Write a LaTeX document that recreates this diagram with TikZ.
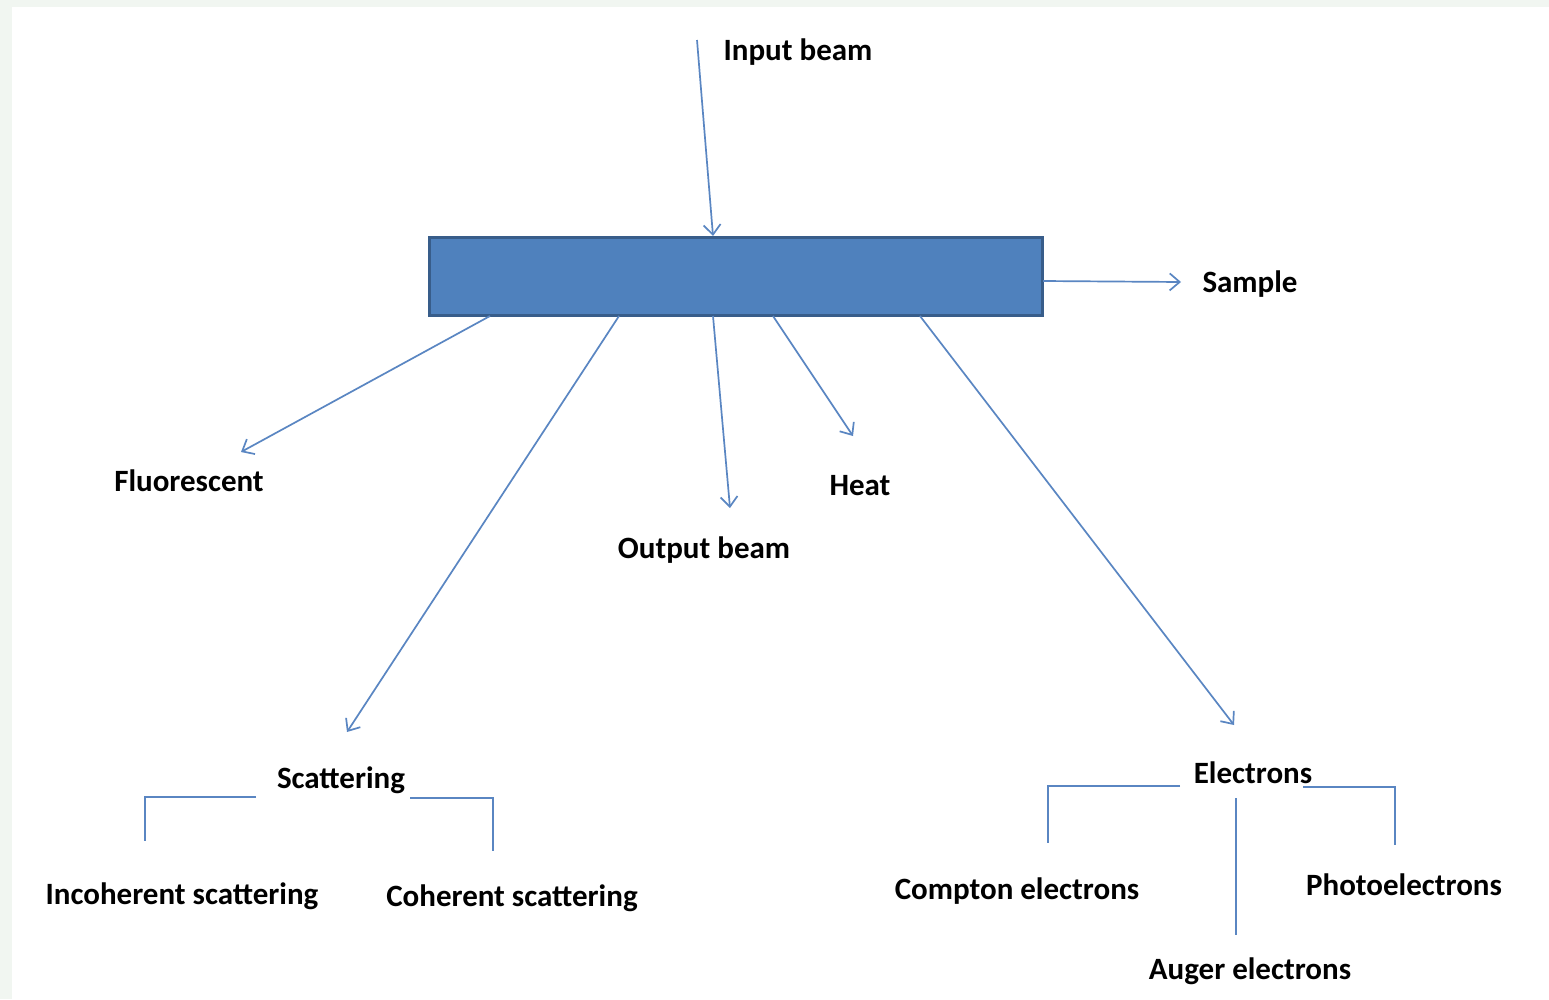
\documentclass[tikz,border=0pt]{standalone}
\usepackage{fontspec}
\setmainfont{Carlito}
\usetikzlibrary{arrows.meta}
\definecolor{linec}{HTML}{5A86C2}
\definecolor{boxfill}{HTML}{4F81BD}
\definecolor{boxdraw}{HTML}{385D8A}
\definecolor{pale}{HTML}{F1F6F1}
\begin{document}
\begin{tikzpicture}[x=1pt,y=-1pt,
  lbl/.style={font=\fontsize{31}{36}\selectfont\bfseries, text=black, inner sep=0pt, yshift=-2pt},
  conn/.style={draw=linec, line width=1.7pt},
  arr/.style={conn, -{Straight Barb[length=10pt,width=17pt,line width=1.7pt]}},
  samplebox/.style={draw=boxdraw, fill=boxfill, line width=3pt, minimum width=613pt, minimum height=78pt, inner sep=0pt}]
\useasboundingbox (0,0) rectangle (1549,999);
\fill[pale] (0,0) rectangle (1549,999);
\fill[white] (12,7) rectangle (1549,999);
% sample
\node[samplebox] (box) at (735.5,276) {};
% labels
\node[lbl] (input) at (798,50) {Input beam};
\node[lbl] (sample) at (1250,282) {Sample};
\node[lbl] (fluor) at (189,479) {Fluorescent};
\node[lbl] (output) at (704,548) {Output beam};
\node[lbl] (heat) at (860,484) {Heat};
\node[lbl] (scat) at (341,778) {Scattering};
\node[lbl] (incoh) at (182,894) {Incoherent scattering};
\node[lbl] (coh) at (512,896) {Coherent scattering};
\node[lbl] (elec) at (1253,771) {Electrons};
\node[lbl] (compton) at (1017,889) {Compton electrons};
\node[lbl] (photo) at (1404,883) {Photoelectrons};
\node[lbl] (auger) at (1250,969) {Auger electrons};
% coordinates for arrow ends
\coordinate (inS) at (697,40);
\coordinate (inE) at (713,236);
\coordinate (saS) at (1043,281);
\coordinate (saE) at (1181,282);
\coordinate (flS) at (490,316);
\coordinate (flE) at (241,452);
\coordinate (scS) at (619,316);
\coordinate (scE) at (347,732);
\coordinate (obS) at (713,316);
\coordinate (obE) at (730,508);
\coordinate (heS) at (773,316);
\coordinate (heE) at (853,436);
\coordinate (elS) at (920,316);
\coordinate (elE) at (1234,725);
\draw[arr] (inS) -- (inE);
\draw[arr] (saS) -- (saE);
\draw[arr] (flS) -- (flE);
\draw[arr] (scS) -- (scE);
\draw[arr] (obS) -- (obE);
\draw[arr] (heS) -- (heE);
\draw[arr] (elS) -- (elE);
% scattering bracket
\coordinate (sl1) at (256,797);
\coordinate (sl2) at (145,797);
\coordinate (sl3) at (145,841);
\coordinate (sr1) at (410,798);
\coordinate (sr2) at (493,798);
\coordinate (sr3) at (493,851);
\draw[conn] (sl1) -- (sl2) -- (sl3);
\draw[conn] (sr1) -- (sr2) -- (sr3);
% electrons bracket
\coordinate (el1) at (1180,786);
\coordinate (el2) at (1048,786);
\coordinate (el3) at (1048,843);
\coordinate (er1) at (1303,787);
\coordinate (er2) at (1395,787);
\coordinate (er3) at (1395,845);
\coordinate (em1) at (1236,798);
\coordinate (em2) at (1236,935);
\draw[conn] (el1) -- (el2) -- (el3);
\draw[conn] (er1) -- (er2) -- (er3);
\draw[conn] (em1) -- (em2);
\end{tikzpicture}
\end{document}
